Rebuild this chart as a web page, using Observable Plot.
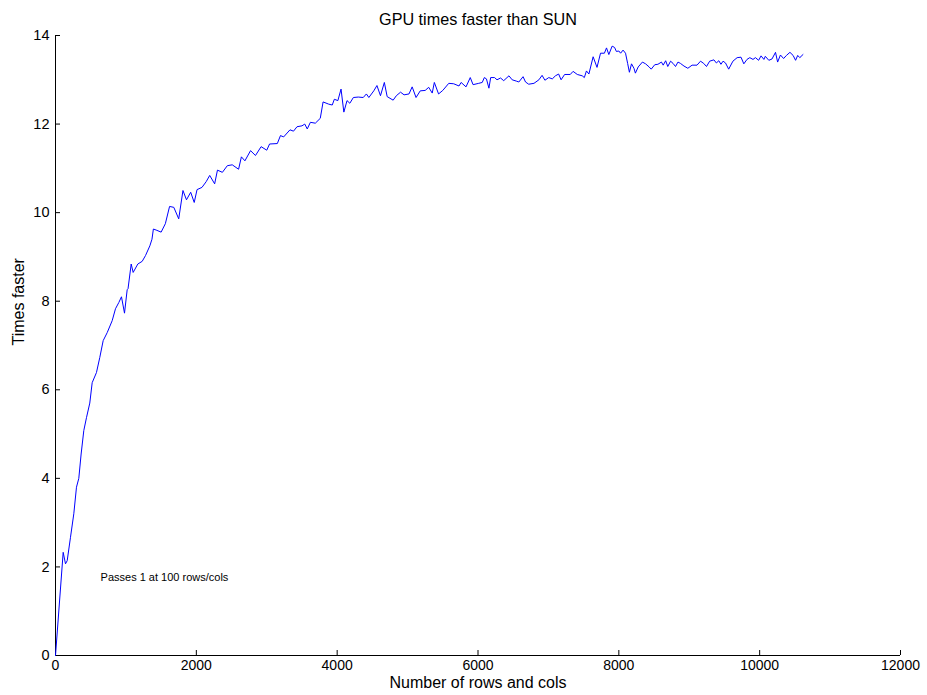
<!DOCTYPE html>
<html>
<head>
<meta charset="utf-8">
<script src="https://cdn.jsdelivr.net/npm/d3@7"></script>
<script src="https://cdn.jsdelivr.net/npm/@observablehq/plot@0.6"></script>
<style>
  html, body { margin: 0; padding: 0; background: #fff; }
</style>
</head>
<body>
<div id="chart"></div>
<script>
const titleText = "GPU times faster than SUN";
const xLabel = "Number of rows and cols";
const yLabel = "Times faster";
const noteText = "Passes 1 at 100 rows/cols";
const noteX = 640;
const noteY = 1.76;

const xTicks = [0, 2000, 4000, 6000, 8000, 10000, 12000];
const yTicks = [0, 2, 4, 6, 8, 10, 12, 14];

const sizes = [
  0, 109, 142, 166, 213, 260, 298, 331, 364, 402, 440, 487, 521, 582, 629, 677, 734, 805, 852, 899,
  937, 980, 1018, 1030, 1075, 1103, 1169, 1231, 1278, 1340, 1370, 1390, 1440, 1500, 1560, 1620, 1680, 1750, 1810, 1860,
  1920, 1970, 2010, 2080, 2140, 2190, 2260, 2300, 2370, 2440, 2510, 2600, 2640, 2690, 2770, 2840, 2920, 3000, 3040, 3150,
  3195, 3240, 3330, 3380, 3430, 3500, 3540, 3575, 3620, 3690, 3760, 3800, 3880, 3930, 3960, 4010, 4055, 4095, 4140, 4180,
  4230, 4300, 4370, 4415, 4450, 4520, 4565, 4615, 4670, 4710, 4795, 4840, 4900, 4950, 5020, 5065, 5120, 5180, 5250, 5300,
  5350, 5380, 5440, 5500, 5585, 5655, 5730, 5760, 5830, 5890, 5930, 6010, 6060, 6090, 6120, 6155, 6180, 6235, 6270, 6320,
  6365, 6440, 6485, 6545, 6580, 6640, 6675, 6720, 6795, 6865, 6910, 6950, 7005, 7055, 7100, 7145, 7180, 7230, 7310, 7350,
  7410, 7480, 7510, 7540, 7575, 7635, 7690, 7740, 7795, 7825, 7858, 7905, 7940, 7965, 8000, 8025, 8060, 8095, 8125, 8150,
  8180, 8215, 8235, 8275, 8335, 8380, 8430, 8460, 8510, 8555, 8605, 8630, 8665, 8695, 8735, 8770, 8805, 8840, 8875, 8925,
  8980, 9040, 9110, 9160, 9205, 9245, 9290, 9350, 9385, 9420, 9450, 9480, 9515, 9560, 9620, 9680, 9735, 9775, 9820, 9860,
  9905, 9940, 9985, 10020, 10060, 10080, 10130, 10175, 10225, 10255, 10295, 10340, 10380, 10430, 10475, 10510, 10540, 10570, 10615
];

const speedup = [
  0, 2.33, 2.07, 2.14, 2.67, 3.2, 3.8, 4.0, 4.55, 5.08, 5.37, 5.7, 6.16, 6.39, 6.73, 7.11, 7.29, 7.56, 7.83, 7.97,
  8.1, 7.73, 8.26, 8.28, 8.84, 8.65, 8.84, 8.9, 9.03, 9.25, 9.4, 9.63, 9.6, 9.56, 9.75, 10.14, 10.12, 9.86, 10.5, 10.29,
  10.46, 10.23, 10.52, 10.57, 10.7, 10.84, 10.65, 10.96, 10.91, 11.06, 11.08, 10.98, 11.26, 11.17, 11.4, 11.29, 11.49, 11.41, 11.55, 11.56,
  11.74, 11.71, 11.87, 11.84, 11.94, 11.96, 12.0, 11.89, 12.04, 12.02, 12.13, 12.5, 12.45, 12.43, 12.56, 12.53, 12.79, 12.27, 12.53, 12.47,
  12.6, 12.61, 12.6, 12.68, 12.6, 12.75, 12.87, 12.64, 12.94, 12.62, 12.54, 12.64, 12.72, 12.66, 12.68, 12.84, 12.6, 12.75, 12.76, 12.83,
  12.7, 12.94, 12.68, 12.76, 12.92, 12.91, 12.86, 12.94, 12.84, 13.05, 12.89, 12.92, 12.94, 13.05, 13.02, 12.81, 13.05, 13.05, 13.0, 13.04,
  12.98, 13.09, 13.0, 12.97, 12.95, 13.07, 12.95, 12.9, 12.92, 13.0, 13.1, 12.99, 13.05, 13.02, 13.09, 13.13, 13.0, 13.12, 13.12, 13.19,
  13.12, 13.09, 13.05, 13.2, 13.13, 13.52, 13.28, 13.6, 13.6, 13.72, 13.57, 13.76, 13.73, 13.64, 13.65, 13.6, 13.67, 13.6, 13.37, 13.17,
  13.36, 13.26, 13.15, 13.29, 13.4, 13.36, 13.29, 13.24, 13.34, 13.35, 13.4, 13.33, 13.43, 13.3, 13.42, 13.37, 13.3, 13.4, 13.37, 13.31,
  13.26, 13.33, 13.33, 13.42, 13.37, 13.3, 13.42, 13.45, 13.38, 13.43, 13.35, 13.42, 13.38, 13.24, 13.42, 13.5, 13.51, 13.36, 13.46, 13.5,
  13.46, 13.5, 13.44, 13.54, 13.46, 13.53, 13.44, 13.47, 13.62, 13.4, 13.56, 13.48, 13.55, 13.62, 13.55, 13.44, 13.55, 13.5, 13.57
];

const data = sizes.map((n, i) => ({n, v: speedup[i]}));

const chart = Plot.plot({
  width: 927,
  height: 695,
  marginLeft: 55,
  marginRight: 27,
  marginTop: 35,
  marginBottom: 40,
  style: {fontFamily: "'Liberation Sans', Arial, Helvetica, sans-serif", fontSize: "14px", color: "#000", background: "#fff"},
  x: {domain: [0, 12000]},
  y: {domain: [0, 14]},
  marks: [
    Plot.axisX({ticks: xTicks, tickSize: -5, tickPadding: 10, tickFormat: d => String(d), label: null, fontSize: 14}),
    Plot.axisY({ticks: yTicks, tickSize: -5, tickPadding: 11, tickFormat: d => String(d), label: null, fontSize: 14.5}),
    Plot.ruleX([0], {stroke: "#000", strokeWidth: 1}),
    Plot.ruleY([0], {stroke: "#000", strokeWidth: 1}),
    Plot.line(data, {x: "n", y: "v", stroke: "#0000ff", strokeWidth: 1}),
    Plot.text([noteText], {x: noteX, y: noteY, text: d => d, textAnchor: "start", fontSize: 11}),
    Plot.text([titleText], {frameAnchor: "top", dy: -22, text: d => d, fontSize: 16.2}),
    Plot.text([xLabel], {frameAnchor: "bottom", dy: 32, text: d => d, fontSize: 16}),
    Plot.text([yLabel], {frameAnchor: "left", dx: -37, rotate: -90, text: d => d, fontSize: 16})
  ]
});
document.getElementById("chart").appendChild(chart);
</script>
</body>
</html>
